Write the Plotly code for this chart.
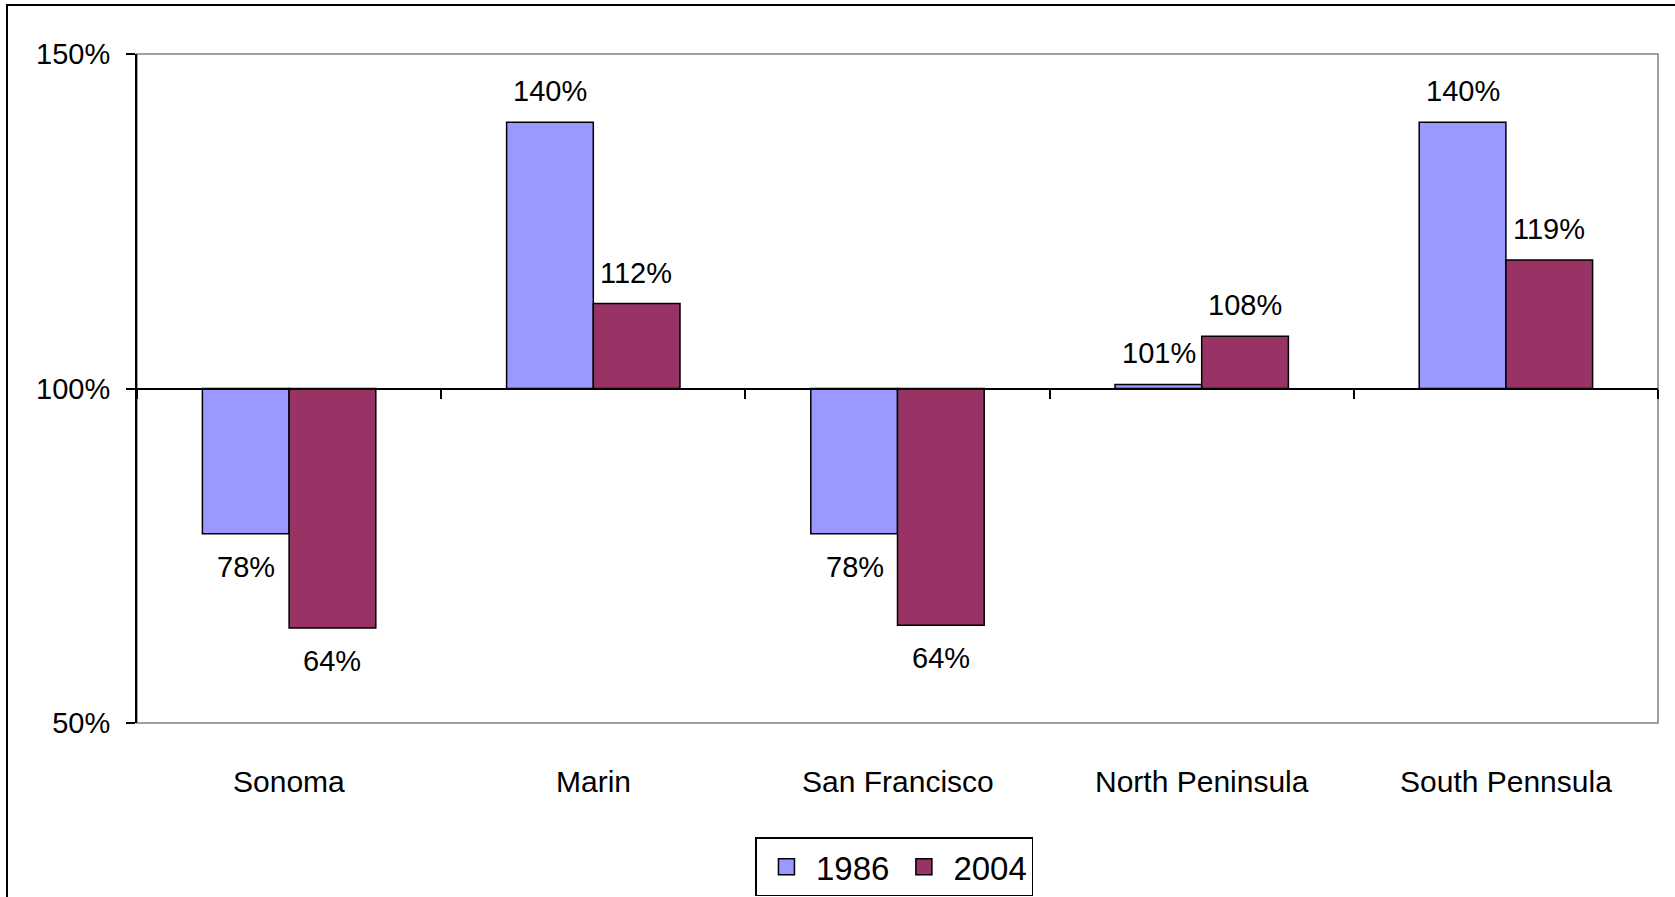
import plotly.graph_objects as go

CATEGORIES = ["Sonoma", "Marin", "San Francisco", "North Peninsula", "South Pennsula"]
SERIES_NAMES = ["1986", "2004"]
VALUES_1986 = [78.3, 139.8, 78.3, 100.6, 139.8]
VALUES_2004 = [64.2, 112.7, 64.6, 107.8, 119.2]
LABELS_1986 = ["78%", "140%", "78%", "101%", "140%"]
LABELS_2004 = ["64%", "112%", "64%", "108%", "119%"]
Y_TICKS = [50, 100, 150]
Y_TICK_LABELS = ["50%", "100%", "150%"]
BASELINE = 100
COLORS = ["#9999FF", "#993366"]

FONT = "Arial, 'Liberation Sans', sans-serif"
W, H = 1675, 897
ML, MR, MT, MB = 137, 17, 54, 174
BAR_HALF_PX = 43

fig = go.Figure()
for name, vals, color in zip(SERIES_NAMES, [VALUES_1986, VALUES_2004], COLORS):
    fig.add_trace(go.Bar(
        x=CATEGORIES,
        y=[v - BASELINE for v in vals],
        base=BASELINE,
        name=name,
        showlegend=False,
        marker=dict(color=color, line=dict(color="black", width=1.5)),
        hoverinfo="skip",
    ))
# legend entries with larger square swatches
for name, color in zip(SERIES_NAMES, COLORS):
    fig.add_trace(go.Scatter(
        x=[None], y=[None], mode="markers", name=name,
        marker=dict(symbol="square", size=16, color=color,
                    line=dict(color="black", width=1.5)),
        showlegend=True, hoverinfo="skip",
    ))

annotations = []
for sidx, (vals, labels) in enumerate([(VALUES_1986, LABELS_1986), (VALUES_2004, LABELS_2004)]):
    xs = -BAR_HALF_PX if sidx == 0 else BAR_HALF_PX
    for cat, v, lab in zip(CATEGORIES, vals, labels):
        annotations.append(dict(
            x=cat, y=v, xref="x", yref="y", text=lab, showarrow=False,
            xshift=xs, yshift=31 if v >= BASELINE else -33,
            yanchor="middle", xanchor="center",
            font=dict(family=FONT, size=29, color="black"),
        ))
for cat in CATEGORIES:
    annotations.append(dict(
        x=cat, y=-0.087, xref="x", yref="paper", text=cat, showarrow=False,
        yanchor="middle", xanchor="center",
        font=dict(family=FONT, size=30, color="black"),
    ))

ymin, ymax = Y_TICKS[0], Y_TICKS[-1]

fig.update_layout(
    width=W, height=H,
    margin=dict(l=ML, r=MR, t=MT, b=MB, autoexpand=False),
    paper_bgcolor="white", plot_bgcolor="white",
    barmode="group", bargap=0.43, bargroupgap=0,
    showlegend=True,
    legend=dict(
        orientation="h", x=0.498, xanchor="center", y=-0.171, yanchor="top",
        font=dict(family=FONT, size=33, color="black"),
        bordercolor="black", borderwidth=1.5, bgcolor="white",
        itemsizing="trace", itemwidth=49, tracegroupgap=0,
    ),
    xaxis=dict(
        type="category", categoryorder="array", categoryarray=CATEGORIES,
        range=[-0.5, len(CATEGORIES) - 0.5],
        anchor="free", position=(BASELINE - ymin) / (ymax - ymin),
        showline=True, linecolor="black", linewidth=2,
        ticks="outside", ticklen=9, tickwidth=1.5, tickcolor="black",
        tickson="boundaries", showticklabels=False,
        showgrid=False, zeroline=False, fixedrange=True,
    ),
    yaxis=dict(
        range=[ymin, ymax], tickvals=Y_TICKS, ticktext=Y_TICK_LABELS,
        showline=True, linecolor="black", linewidth=2,
        ticks="outside", ticklen=9, tickwidth=1.5, tickcolor="black",
        tickfont=dict(family=FONT, size=29, color="black"),
        ticklabelstandoff=10,
        showgrid=False, zeroline=False, fixedrange=True,
    ),
    annotations=annotations,
    shapes=[
        dict(type="rect", xref="paper", yref="paper", x0=0, x1=1, y0=0, y1=1,
             line=dict(color="#808080", width=1.5), layer="below"),
        dict(type="rect", xref="paper", yref="paper",
             x0=(7 - ML) / (W - ML - MR), x1=1.05,
             y0=-0.3, y1=1 + (MT - 5) / (H - MT - MB),
             line=dict(color="black", width=2), layer="above"),
    ],
)

fig.write_html(
    "out.html",
    config={"displayModeBar": False},
    post_script="document.body.style.margin='0px';document.body.style.overflow='hidden';",
)
